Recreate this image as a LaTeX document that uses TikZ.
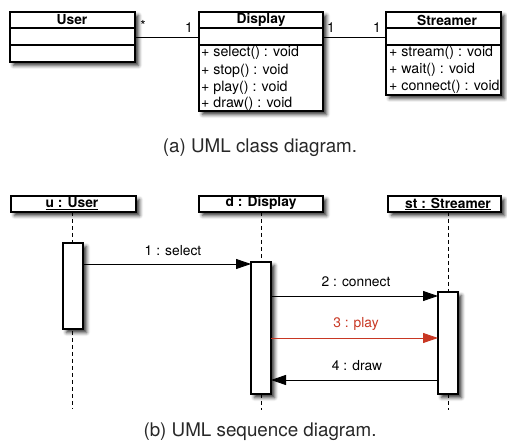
\documentclass[tikz,border=0pt]{standalone}
\usepackage{fontspec}
\setmainfont{TeX Gyre Heros}
\usetikzlibrary{arrows.meta,shadows.blur}
\definecolor{msgred}{RGB}{200,55,35}
\definecolor{capgray}{RGB}{40,40,40}
\begin{document}
\begin{tikzpicture}[x=1pt,y=-1pt,
 box/.style={draw,line width=1.1pt,fill=white,inner sep=0pt,outer sep=0pt,anchor=north west,
   blur shadow={shadow xshift=3.5pt,shadow yshift=-3.5pt,shadow blur radius=3.5pt,shadow opacity=80}},
 sep/.style={line width=1.1pt},
 txt/.style={font=\fontsize{13.8}{14}\selectfont,inner sep=0pt},
 hdr/.style={font=\bfseries\fontsize{13.8}{14}\selectfont,inner sep=0pt},
 meth/.style={font=\fontsize{14.2}{15}\selectfont,inner sep=0pt,anchor=west},
 assoc/.style={line width=0.9pt},
 life/.style={dash pattern=on 4pt off 3pt,line width=0.9pt},
 msg/.style={line width=0.9pt,-{Triangle[length=15pt,width=10pt]}},
 captext/.style={font=\fontsize{18.8}{20}\selectfont,text=capgray,inner sep=0pt}]
\useasboundingbox (0,0) rectangle (507,441);

% ---------- class diagram ----------
\node[box,minimum width=125pt,minimum height=50pt] (user) at (10,12) {};
\draw[sep] (10,28) -- (135,28);
\draw[sep] (10,45) -- (135,45);
\node[hdr] (userT) at (72,20) {User};

\node[box,minimum width=124pt,minimum height=99pt] (display) at (199,12) {};
\draw[sep] (199,28) -- (323,28);
\draw[sep] (199,45) -- (323,45);
\node[hdr] (displayT) at (261,20) {Display};
\node[meth] (d1) at (201,53) {+ select() : void};
\node[meth] (d2) at (201,71) {+ stop() : void};
\node[meth] (d3) at (201,88) {+ play() : void};
\node[meth] (d4) at (201,104) {+ draw() : void};

\node[box,minimum width=115pt,minimum height=83pt] (streamer) at (386,12) {};
\draw[sep] (386,28) -- (501,28);
\draw[sep] (386,45) -- (501,45);
\node[hdr] (streamerT) at (447,20) {Streamer};
\node[meth] (s1) at (389,53) {+ stream() : void};
\node[meth] (s2) at (389,70) {+ wait() : void};
\node[meth] (s3) at (389,87) {+ connect() : void};

\draw[assoc] (user.east) -- (display.west |- user.east);
\draw[assoc] (display.east |- user.east) -- (streamer.west |- user.east);
\node[txt] (m1a) at (143,25) {*};
\node[txt] (m1b) at (189,28) {1};
\node[txt] (m2a) at (331,28) {1};
\node[txt] (m2b) at (377,28) {1};

\node[captext] (capa) at (260,148) {(a) UML class diagram.};

% ---------- sequence diagram ----------
\node[box,minimum width=125pt,minimum height=16pt] (uh) at (11,196) {};
\node[hdr] (uhT) at (72,204) {\underline{u : User}};
\node[box,minimum width=124pt,minimum height=16pt] (dh) at (199,196) {};
\node[hdr] (dhT) at (261,204) {\underline{d : Display}};
\node[box,minimum width=113pt,minimum height=16pt] (sh) at (388,196) {};
\node[hdr] (shT) at (448,204) {\underline{st : Streamer}};

\coordinate (uend) at (72,409);
\coordinate (dend) at (261,410);
\coordinate (send) at (448,410);
\draw[life] (uend |- uh.south) -- (uend);
\draw[life] (dend |- dh.south) -- (dend);
\draw[life] (send |- sh.south) -- (send);

\node[box,minimum width=20pt,minimum height=86pt] (ua) at (63,243) {};
\node[box,minimum width=20pt,minimum height=132pt] (da) at (251,262) {};
\node[box,minimum width=20pt,minimum height=102pt] (sa) at (438,292) {};

\coordinate (y1) at (0,264);
\coordinate (y2) at (0,296);
\coordinate (y3) at (0,338);
\coordinate (y4) at (0,380);
\draw[msg] (ua.east |- y1) -- (da.west |- y1);
\draw[msg] (da.east |- y2) -- (sa.west |- y2);
\draw[msg,draw=msgred,-{Triangle[length=15pt,width=10pt,fill=msgred]}] (da.east |- y3) -- (sa.west |- y3);
\draw[msg] (sa.west |- y4) -- (da.east |- y4);
\node[txt] (l1) at (173,251) {1 : select};
\node[txt] (l2) at (356,282) {2 : connect};
\node[txt,text=msgred] (l3) at (356,324) {3 : play};
\node[txt] (l4) at (357,366) {4 : draw};

\node[captext] (capb) at (260,432) {(b) UML sequence diagram.};
\end{tikzpicture}
\end{document}
